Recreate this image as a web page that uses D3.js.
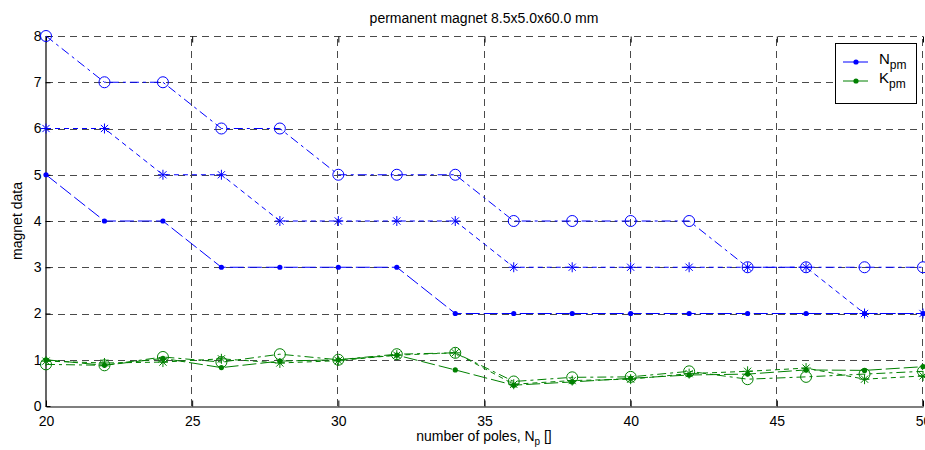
<!DOCTYPE html>
<html>
<head>
<meta charset="utf-8">
<script src="https://cdn.jsdelivr.net/npm/d3@7.9.0/dist/d3.min.js"></script>
<style>
  body { margin: 0; background: #fff; }
  text { font-family: "Liberation Sans", Arial, sans-serif; }
</style>
</head>
<body>
<script>
// ** Data **
const poles = [20, 22, 24, 26, 28, 30, 32, 34, 36, 38, 40, 42, 44, 46, 48, 50];

const nDot    = [5, 4, 4, 3, 3, 3, 3, 2, 2, 2, 2, 2, 2, 2, 2, 2];
const nStar   = [6, 6, 5, 5, 4, 4, 4, 4, 3, 3, 3, 3, 3, 3, 2, 2];
const nCircle = [8, 7, 7, 6, 6, 5, 5, 5, 4, 4, 4, 4, 3, 3, 3, 3];

const kDot    = [1.00, 0.88, 1.03, 0.83, 0.97, 1.00, 1.10, 0.78, 0.45, 0.52, 0.60, 0.67, 0.69, 0.78, 0.77, 0.85];
const kStar   = [0.97, 0.93, 0.95, 1.02, 0.93, 0.98, 1.10, 1.15, 0.47, 0.55, 0.58, 0.70, 0.75, 0.82, 0.58, 0.65];
const kCircle = [0.90, 0.88, 1.06, 0.95, 1.12, 1.00, 1.12, 1.15, 0.53, 0.62, 0.63, 0.75, 0.58, 0.63, 0.69, 0.75];

const xTicks = [20, 25, 30, 35, 40, 45, 50];
const yTicks = [0, 1, 2, 3, 4, 5, 6, 7, 8];

const series = [
    { values: nDot,    color: "#0000ff", marker: "dot",    dash: "14,4" },
    { values: nStar,   color: "#0000ff", marker: "star",   dash: "5,4" },
    { values: nCircle, color: "#0000ff", marker: "circle", dash: "9,4,3,4" },
    { values: kDot,    color: "#008000", marker: "dot",    dash: "14,4" },
    { values: kStar,   color: "#008000", marker: "star",   dash: "5,4" },
    { values: kCircle, color: "#008000", marker: "circle", dash: "9,4,3,4" }
];

// ** SVG Setup **
const width = 925, height = 450;
const margin = { left: 46, right: 2, top: 36, bottom: 44 };

const svg = d3.select("body").append("svg")
    .attr("width", width)
    .attr("height", height);

const x = d3.scaleLinear().domain([20, 50]).range([margin.left, width - margin.right]);
const y = d3.scaleLinear().domain([0, 8]).range([height - margin.bottom, margin.top]);

// ** Grid **
const grid = svg.append("g")
    .attr("stroke", "#4a4a4a")
    .attr("stroke-width", 1)
    .attr("stroke-dasharray", "7,5");

grid.selectAll("line.h")
    .data(yTicks.filter(d => d > 0))
    .enter().append("line")
    .attr("x1", x(20)).attr("x2", x(50))
    .attr("y1", d => Math.round(y(d)) + 0.5)
    .attr("y2", d => Math.round(y(d)) + 0.5);

grid.selectAll("line.v")
    .data(xTicks.filter(d => d > 20))
    .enter().append("line")
    .attr("y1", y(0)).attr("y2", y(8))
    .attr("x1", d => Math.round(x(d)) - 0.5)
    .attr("x2", d => Math.round(x(d)) - 0.5);

// ** Axes (ticks inward, MATLAB style) **
const xAxis = svg.append("g")
    .attr("transform", `translate(0,${Math.round(y(0)) + 0.5})`)
    .call(d3.axisBottom(x).tickValues(xTicks).tickSize(-6).tickPadding(10).tickSizeOuter(0));

const xAxisTop = svg.append("g")
    .attr("transform", `translate(0,${Math.round(y(8)) + 0.5})`)
    .call(d3.axisTop(x).tickValues(xTicks).tickSize(-6).tickFormat("").tickSizeOuter(0));
xAxisTop.select(".domain").remove();

const yAxis = svg.append("g")
    .attr("transform", `translate(${Math.round(x(20)) - 0.5},0)`)
    .call(d3.axisLeft(y).tickValues(yTicks).tickSize(-5).tickPadding(4).tickSizeOuter(0));

[xAxis, xAxisTop, yAxis].forEach(g => {
    g.selectAll("text")
        .style("font-size", "14px")
        .style("font-family", "'Liberation Sans', Arial, sans-serif")
        .attr("fill", "#000");
    g.selectAll("line").attr("stroke", "#000");
    g.select(".domain").attr("stroke", "#000").attr("stroke-width", 1.2);
});

// ** Data lines **
const line = d3.line()
    .x((d, i) => x(poles[i]))
    .y(d => y(d));

const plot = svg.append("g");

series.forEach(s => {
    plot.append("path")
        .datum(s.values)
        .attr("fill", "none")
        .attr("stroke", s.color)
        .attr("stroke-width", 1)
        .attr("stroke-dasharray", s.dash)
        .attr("d", line);
});

function drawMarker(g, type, cx, cy, color) {
    if (type === "dot") {
        g.append("circle").attr("cx", cx).attr("cy", cy).attr("r", 2.6).attr("fill", color);
    } else if (type === "circle") {
        g.append("circle").attr("cx", cx).attr("cy", cy).attr("r", 5.5)
            .attr("fill", "none").attr("stroke", color).attr("stroke-width", 1);
    } else {
        const r = 5;
        const d = r * 0.72;
        const p = `M${cx - r},${cy}L${cx + r},${cy}M${cx},${cy - r}L${cx},${cy + r}` +
            `M${cx - d},${cy - d}L${cx + d},${cy + d}M${cx - d},${cy + d}L${cx + d},${cy - d}`;
        g.append("path").attr("d", p).attr("stroke", color).attr("stroke-width", 1).attr("fill", "none");
    }
}

series.forEach(s => {
    const mg = plot.append("g");
    s.values.forEach((v, i) => drawMarker(mg, s.marker, x(poles[i]), y(v), s.color));
});

// ** Title and labels **
svg.append("text")
    .attr("x", 484).attr("y", 23)
    .attr("text-anchor", "middle")
    .style("font-size", "14px")
    .text("permanent magnet 8.5x5.0x60.0 mm");

const xl = svg.append("text")
    .attr("x", 484).attr("y", 441)
    .attr("text-anchor", "middle")
    .style("font-size", "14px");
xl.append("tspan").text("number of poles, N");
xl.append("tspan").attr("dy", 4).style("font-size", "10px").text("p");
xl.append("tspan").attr("dy", -4).text(" []");

svg.append("text")
    .attr("transform", `translate(22,${y(4)}) rotate(-90)`)
    .attr("text-anchor", "middle")
    .style("font-size", "14px")
    .text("magnet data");

// ** Legend **
const legend = svg.append("g").attr("transform", "translate(835,43)");
legend.append("rect")
    .attr("x", 0.5).attr("y", 0.5)
    .attr("width", 81).attr("height", 60)
    .attr("fill", "#fff").attr("stroke", "#000").attr("stroke-width", 1);

const legendItems = [
    { label: "N", sub: "pm", color: "#0000ff" },
    { label: "K", sub: "pm", color: "#008000" }
];

legendItems.forEach((d, i) => {
    const ly = 19 + i * 19;
    legend.append("line")
        .attr("x1", 8).attr("x2", 33).attr("y1", ly).attr("y2", ly)
        .attr("stroke", d.color).attr("stroke-width", 1);
    legend.append("circle").attr("cx", 21).attr("cy", ly).attr("r", 2.6).attr("fill", d.color);
    const t = legend.append("text").attr("x", 44).attr("y", ly + 2).style("font-size", "15px");
    t.append("tspan").text(d.label);
    t.append("tspan").attr("dy", 5).style("font-size", "12px").text(d.sub);
});
</script>
</body>
</html>
